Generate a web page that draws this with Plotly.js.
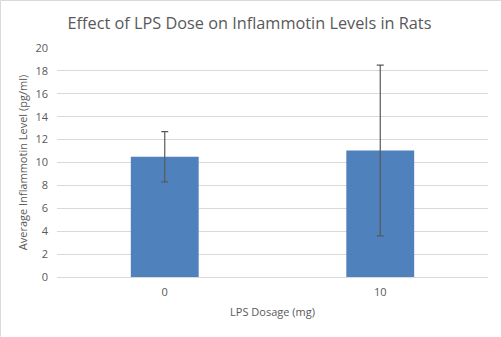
<!DOCTYPE html>
<html>
<head>
<meta charset="utf-8">
<script src="https://cdn.plot.ly/plotly-3.0.1.min.js"></script>
<style>html,body{margin:0;padding:0;background:#fff;}#chart{width:501px;height:337px;}</style>
</head>
<body>
<div id="chart"></div>
<script>
const categories = ["0", "10"];
const averages = [10.5, 11.05];
const errors = [2.2, 7.45];
const yTicks = [0, 2, 4, 6, 8, 10, 12, 14, 16, 18, 20];

const grey = "#595959";
const font = "Open Sans, Liberation Sans, sans-serif";

const trace = {
  type: "bar",
  x: categories,
  y: averages,
  width: 0.315,
  marker: {color: "#4f81bd"},
  error_y: {type: "data", array: errors, visible: true, color: grey, thickness: 1.2, width: 3.5},
  hoverinfo: "none"
};

const layout = {
  width: 501, height: 337,
  margin: {l: 57, r: 13, t: 48, b: 60},
  paper_bgcolor: "#fff", plot_bgcolor: "#fff",
  showlegend: false,
  title: {text: "Effect of LPS Dose on Inflammotin Levels in Rats", x: 0.498, xanchor: "center", y: 0.932, yanchor: "middle",
    font: {family: font, size: 16.3, color: grey}},
  xaxis: {type: "category", showgrid: false, zeroline: false, showline: true, linecolor: "#d9d9d9", linewidth: 1,
    ticks: "", tickfont: {family: font, size: 11, color: grey}, ticklabelstandoff: 5,
    title: {text: "LPS Dosage (mg)", font: {family: font, size: 11, color: grey}, standoff: 10}},
  yaxis: {range: [0, 20], tickvals: yTicks, ticktext: yTicks.map(String), showgrid: true, gridcolor: "#d9d9d9", gridwidth: 1,
    zeroline: false, showline: false, ticks: "", tickfont: {family: font, size: 11, color: grey}, ticklabelstandoff: 8,
    title: {text: "Average Inflammotin Level (pg/ml)", font: {family: font, size: 11, color: grey}, standoff: 5}},
  shapes: [
    {type: "line", xref: "paper", yref: "paper", x0: -0.1311, x1: 1.03, y0: 1.2074, y1: 1.2074, line: {color: "#d9d9d9", width: 1}},
    {type: "line", xref: "paper", yref: "paper", x0: -0.1311, x1: -0.1311, y0: 1.2074, y1: -0.26, line: {color: "#d9d9d9", width: 1}}
  ]
};

Plotly.newPlot("chart", [trace], layout, {displayModeBar: false, staticPlot: true});
</script>
</body>
</html>
